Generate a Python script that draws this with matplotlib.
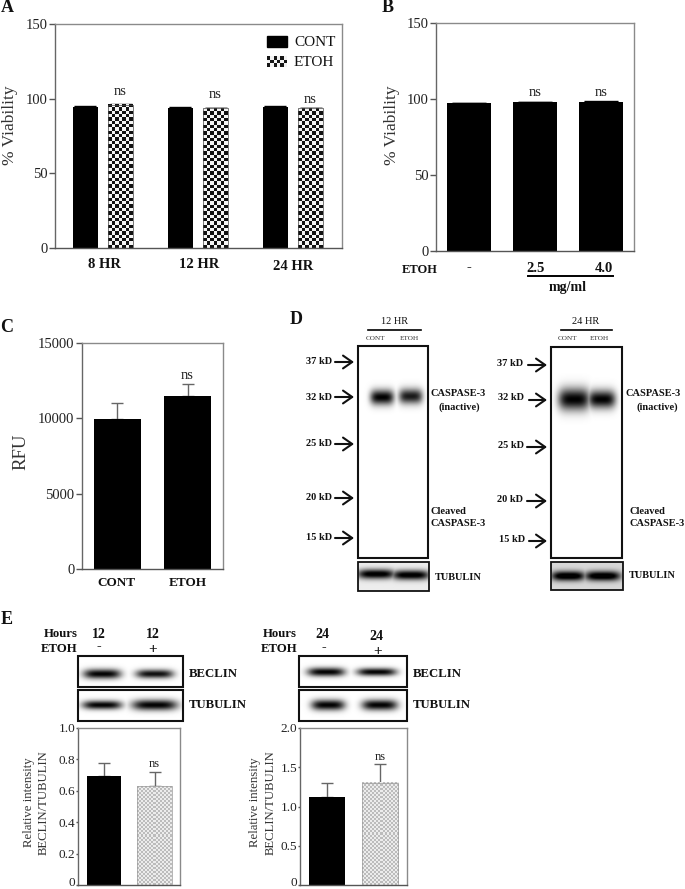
import numpy as np
from matplotlib import pyplot as plt
from matplotlib.patches import Rectangle
from matplotlib.transforms import ScaledTranslation

plt.rcParams['font.family'] = ['Liberation Serif', 'DejaVu Serif']

W, H = 685, 889

# panel A
hours_a = ["8 HR", "12 HR", "24 HR"]
cont_a = [94.6, 93.9, 94.6]
etoh_a = [95.9, 93.7, 93.7]
cont_a_err = [0.3, 0.3, 0.3]
etoh_a_err = [0.3, 0.3, 0.3]

# panel B
doses_b = ["-", "2.5", "4.0"]
vals_b = [97.4, 98.1, 98.1]
errs_b = [0.2, 0.2, 0.5]

# panel C
labels_c = ["CONT", "ETOH"]
vals_c = [9940, 11490]
errs_c = [1060, 760]

# panel E
beclin_12 = [0.694, 0.628]
beclin_12_err = [0.083, 0.092]
beclin_24 = [1.12, 1.30]
beclin_24_err = [0.18, 0.24]

# molecular weight markers
mw_labels = ["37 kD", "32 kD", "25 kD", "20 kD", "15 kD"]

fig = plt.figure(figsize=(W / 100, H / 100), dpi=100)


def px_axes(l, t, r, b, **kw):
    return fig.add_axes([l / W, 1 - b / H, (r - l) / W, (b - t) / H], **kw)


def setup(ax, xlim, ylim, ticks, ticklabels, size=10.5, tick_len=4, pad=1.5):
    ax.set_xlim(xlim)
    ax.set_ylim(ylim)
    ax.set_xticks([])
    ax.set_yticks(ticks)
    ax.set_yticklabels(ticklabels, fontsize=size, color="#222222")
    ax.tick_params(axis="y", length=tick_len, width=1, color="#555555", pad=pad)
    for s in ax.spines.values():
        s.set_color("#8a8a8a")
        s.set_linewidth(1)
    ax.spines["bottom"].set_color("#555555")
    ax.spines["left"].set_color("#666666")


def pattern_bar(ax, x, w, y, cell, c1, c2, edge="#444444"):
    # checker fill, drawn as a small image the size of the bar
    bar = ax.bar(x, y, w, color="none", edgecolor=edge, linewidth=0.5, zorder=3)[0]
    fig.canvas.draw()
    box = bar.get_window_extent()
    nx = max(int(box.width / cell), 2)
    ny = max(int(box.height / cell), 2)
    img = (np.indices((ny, nx)).sum(axis=0) % 2).astype(float)
    xl, yl = ax.get_xlim(), ax.get_ylim()
    ax.imshow(img, extent=(x - w / 2, x + w / 2, 0, y), aspect="auto", origin="lower",
              cmap=plt.cm.colors.ListedColormap([c1, c2]), interpolation="nearest", zorder=2)
    ax.set_xlim(xl)
    ax.set_ylim(yl)


def err(ax, x, y, e, color="#666666", cap=4.5):
    ax.errorbar(x, y, yerr=[[0], [e]], ecolor=color, elinewidth=1, capsize=cap, capthick=1,
                fmt="none", zorder=1)


def lift_zero(ax):
    # the bottom "0" sits on the edge of the figure, nudge it up so it is not cut
    lbl = ax.get_yticklabels()[0]
    lbl.set_transform(lbl.get_transform() + ScaledTranslation(0, 2.5 / 72, fig.dpi_scale_trans))


# A
ax = px_axes(55, 24, 342, 248)
setup(ax, (-0.505, 2.516), (0, 150), [0, 50, 100, 150], ["0", "50", "100", "150"])
xa = np.arange(3)
ns_gap = [4.5, 4.5, 1.5]
for i in xa:
    err(ax, i - 0.185, cont_a[i], cont_a_err[i], "black", 8)
    err(ax, i + 0.185, etoh_a[i], etoh_a_err[i], "black", 8)
    ax.bar(i - 0.185, cont_a[i], 0.26, color="black", zorder=2)
    pattern_bar(ax, i + 0.185, 0.26, etoh_a[i], 3.3, "#111111", "#f4f4f4")
    ax.text(i + 0.185, etoh_a[i] + ns_gap[i], "ns", ha="center", va="bottom", fontsize=10.5, color="#222222")

# B
ax = px_axes(436, 23, 634, 251)
setup(ax, (-0.5, 2.5), (0, 150), [0, 50, 100, 150], ["0", "50", "100", "150"])
for i in range(3):
    err(ax, i, vals_b[i], errs_b[i], "black", 12)
    ax.bar(i, vals_b[i], 0.667, color="black", zorder=2)
    if i > 0:
        ax.text(i, vals_b[i] + 2, "ns", ha="center", va="bottom", fontsize=10.5, color="#222222")

# C
ax = px_axes(82, 343, 223, 569)
setup(ax, (-0.507, 1.507), (0, 15000), [0, 5000, 10000, 15000], ["0", "5000", "10000", "15000"])
for i in range(2):
    err(ax, i, vals_c[i], errs_c[i])
    ax.bar(i, vals_c[i], 0.67, color="black", zorder=2)
ax.text(1, vals_c[1] + errs_c[1] + 150, "ns", ha="center", va="bottom", fontsize=10.5, color="#222222")

# E left
ax = px_axes(78, 728, 180, 885)
setup(ax, (-0.515, 1.505), (0, 1), [0, 0.2, 0.4, 0.6, 0.8, 1.0],
      ["0", "0.2", "0.4", "0.6", "0.8", "1.0"], 9.5, 1.5, 0.5)
lift_zero(ax)
err(ax, 0, beclin_12[0], beclin_12_err[0], cap=4.5)
err(ax, 1, beclin_12[1], beclin_12_err[1], cap=4.5)
ax.bar(0, beclin_12[0], 0.683, color="black", zorder=2)
pattern_bar(ax, 1, 0.683, beclin_12[1], 2, "#bcbcbc", "#ececec", "#999999")
ax.text(1, beclin_12[1] + beclin_12_err[1] + 0.015, "ns", ha="center", va="bottom", fontsize=9, color="#222222")

# E right
ax = px_axes(300, 728, 407, 885)
setup(ax, (-0.51, 1.51), (0, 2), [0, 0.5, 1.0, 1.5, 2.0], ["0", "0.5", "1.0", "1.5", "2.0"], 9.5, 1.5, 0.5)
lift_zero(ax)
err(ax, 0, beclin_24[0], beclin_24_err[0], cap=4.5)
err(ax, 1, beclin_24[1], beclin_24_err[1], cap=4.5)
ax.bar(0, beclin_24[0], 0.68, color="black", zorder=2)
pattern_bar(ax, 1, 0.68, beclin_24[1], 2, "#bcbcbc", "#ececec", "#999999")
ax.text(1, beclin_24[1] + beclin_24_err[1] + 0.01, "ns", ha="center", va="bottom", fontsize=9, color="#222222")

# overlay in pixel coords for the labels and blots
ov = fig.add_axes([0, 0, 1, 1], zorder=10)
ov.patch.set_alpha(0)
ov.axis("off")


def lab(x, y, s, size=10, bold=False, ha="center", rot=0, color="#111111"):
    ov.text(x, y, s, fontsize=size, fontweight="bold" if bold else "normal", ha=ha, va="center",
            rotation=rot, color=color)


def blot(l, t, r, b, bands, lw=1.6, bg=1.0):
    # bands: centre x, centre y, half width, half height, darkness
    xx, yy = np.meshgrid(np.arange(l, r + 1), np.arange(t, b + 1))
    dark = np.zeros_like(xx, dtype=float)
    for cx, cy, wx, wy, d in bands:
        dark = np.maximum(dark, d * np.exp(-((xx - cx) / wx) ** 4) * np.exp(-((yy - cy) / wy) ** 2))
    ov.imshow(bg - dark, extent=(l, r, b, t), aspect="auto", cmap="gray", vmin=0, vmax=1,
              interpolation="bilinear", zorder=1)
    ov.add_patch(Rectangle((l, t), r - l, b - t, fill=False, edgecolor="#111111", linewidth=lw, zorder=2))


def arrow(x0, x1, y):
    ov.annotate("", xy=(x1, y), xytext=(x0, y),
                arrowprops=dict(arrowstyle="->,head_length=0.6,head_width=0.42", color="#111111",
                                lw=1.5, shrinkA=0, shrinkB=0, mutation_scale=11))


# panel letters
lab(7, 8, "A", 13, True)
lab(388, 8, "B", 13, True)
lab(7, 328, "C", 13, True)
lab(296, 320, "D", 13, True)
lab(7, 619, "E", 13, True)

# A labels
lab(10, 125, "% Viability", 12.5, rot=90, color="#333333")
for x, y, s in zip([104, 199, 293], [265, 265, 266], hours_a):
    lab(x, y, s, 10.5, True)
ov.add_patch(Rectangle((267, 36), 20, 11, color="black"))
pat = (np.indices((3, 6)).sum(axis=0) % 2).astype(float)
ov.imshow(pat, extent=(267, 287, 67, 56), aspect="auto", cmap="gray", vmin=-0.1, vmax=1.05,
          interpolation="nearest")
lab(294, 42, "CONT", 11, ha="left")
lab(294, 62, "ETOH", 11, ha="left")

# B labels
lab(392, 125, "% Viability", 12.5, rot=90, color="#333333")
lab(420, 270, "ETOH", 9, True)
for x, s in zip([469, 536, 604], doses_b):
    lab(x, 268, s, 10.5, True)
ov.plot([528, 613], [276, 276], color="black", lw=1.4)
lab(568, 287, "mg/ml", 10, True)

# C labels
lab(21, 452, "RFU", 13.5, rot=90, color="#333333")
for x, s in zip([116, 188], labels_c):
    lab(x, 583, s, 9.5, True)

# D left blot
lab(395, 322, "12 HR", 7.5)
ov.plot([368, 421], [330, 330], color="black", lw=1.2)
lab(376, 339, "CONT", 5.2, color="#333333")
lab(409, 339, "ETOH", 5.2, color="#333333")
blot(358, 346, 428, 558, [(382, 397, 12, 7.5, 1.0), (411, 396, 12, 7.5, 0.9)], 1.5)
blot(358, 562, 429, 591, [(376, 574, 19, 5, 1.0), (411, 575, 19, 5, 1.0)], 1.3, 0.93)
for y, s in zip([362, 397, 444, 498, 538], mw_labels):
    lab(306, y, s, 7.5, True, ha="left")
    arrow(335, 354, y)
lab(431, 394, "CASPASE-3", 7.5, True, ha="left")
lab(459, 407, "(inactive)", 7.5, True)
lab(431, 511, "Cleaved", 7.5, True, ha="left")
lab(431, 523, "CASPASE-3", 7.5, True, ha="left")
lab(435, 577, "TUBULIN", 7.5, True, ha="left")

# D right blot
lab(586, 321, "24 HR", 7.5)
ov.plot([561, 612], [330, 330], color="black", lw=1.2)
lab(568, 338, "CONT", 5.2, color="#333333")
lab(599, 338, "ETOH", 5.2, color="#333333")
blot(551, 347, 622, 558, [(574, 399, 16, 11, 1.0), (602, 399, 14, 9, 1.0)], 1.5)
blot(551, 562, 623, 590, [(568, 576, 17, 5, 1.0), (603, 576, 18, 5, 1.0)], 1.3, 0.85)
for x, y, ay, a0, s in zip([497, 498, 498, 497, 499], [363, 398, 446, 500, 540],
                           [365, 400, 447, 501, 541], [528, 529, 527, 527, 529], mw_labels):
    lab(x, y, s, 7.5, True, ha="left")
    arrow(a0, 547, ay)
lab(626, 394, "CASPASE-3", 7.5, True, ha="left")
lab(657, 407, "(inactive)", 7.5, True)
lab(630, 511, "Cleaved", 7.5, True, ha="left")
lab(630, 523, "CASPASE-3", 7.5, True, ha="left")
lab(629, 576, "TUBULIN", 7.5, True, ha="left")

# E left
lab(78, 634, "Hours", 9.2, True, ha="right")
lab(77, 649, "ETOH", 9.2, True, ha="right")
lab(99, 635, "12", 10, True)
lab(153, 635, "12", 10, True)
lab(99, 647, "-", 10, True)
lab(153, 650, "+", 11, True)
blot(78, 656, 183, 687, [(102, 674, 19, 5, 1.0), (155, 674, 19, 4.5, 0.95)], 1.5)
blot(78, 690, 183, 721, [(102, 705, 20, 4.5, 1.0), (155, 705, 23, 5.5, 1.0)], 1.5)
lab(189, 674, "BECLIN", 9.2, True, ha="left")
lab(189, 705, "TUBULIN", 9.2, True, ha="left")
lab(29, 802, "Relative intensity", 9.2, rot=90, color="#333333")
lab(44, 803, "BECLIN/TUBULIN", 9.2, rot=90, color="#333333")

# E right
lab(297, 634, "Hours", 9.2, True, ha="right")
lab(297, 649, "ETOH", 9.2, True, ha="right")
lab(322, 635, "24", 10, True)
lab(376, 636, "24", 10, True)
lab(324, 648, "-", 10, True)
lab(378, 651, "+", 11, True)
blot(299, 656, 407, 687, [(326, 672, 19, 4.5, 1.0), (377, 672, 20, 4, 1.0)], 1.5)
blot(299, 690, 407, 721, [(328, 705, 17, 5.5, 1.0), (380, 705, 18, 5.5, 1.0)], 1.5)
lab(413, 674, "BECLIN", 9.2, True, ha="left")
lab(413, 705, "TUBULIN", 9.2, True, ha="left")
lab(255, 802, "Relative intensity", 9.2, rot=90, color="#333333")
lab(271, 803, "BECLIN/TUBULIN", 9.2, rot=90, color="#333333")

ov.set_xlim(0, W)
ov.set_ylim(H, 0)

plt.savefig("out.png", dpi=100)
